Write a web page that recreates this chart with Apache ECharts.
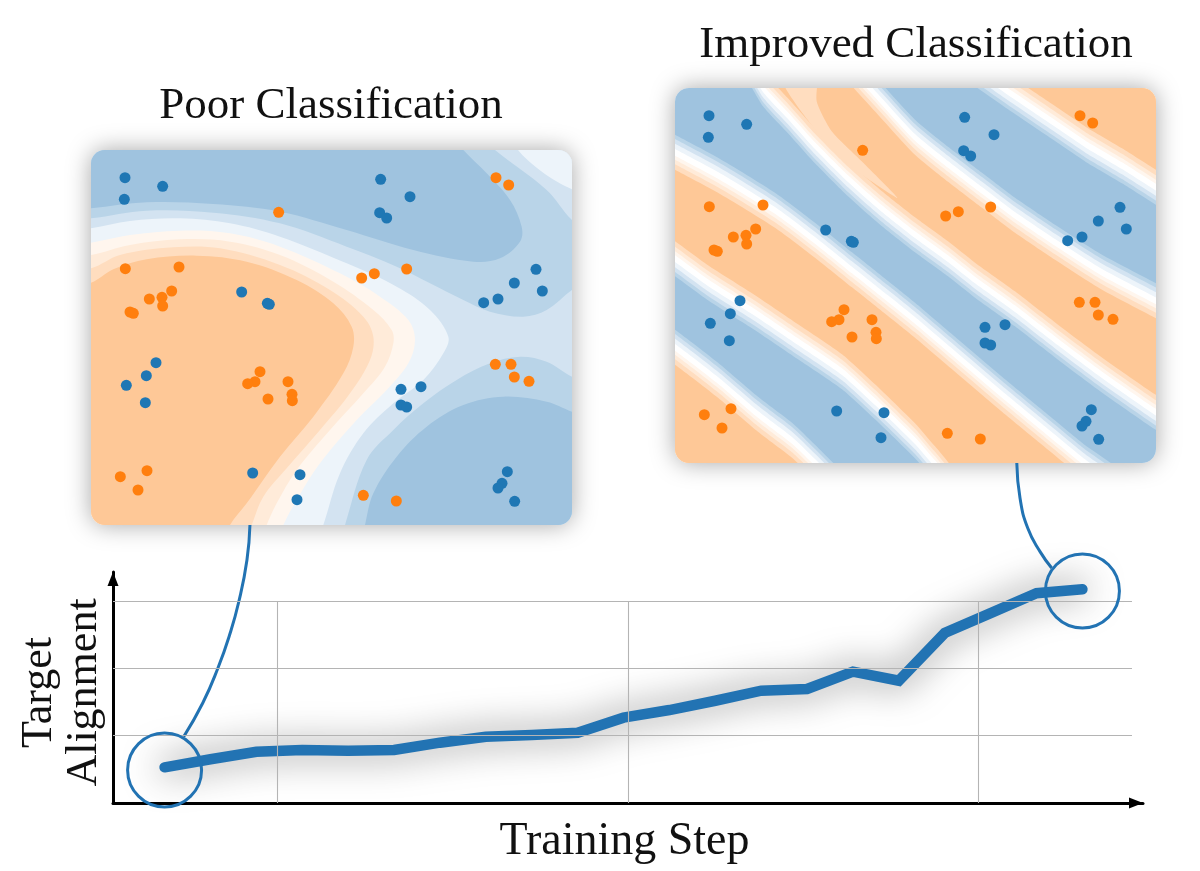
<!DOCTYPE html>
<html><head><meta charset="utf-8">
<style>html,body{margin:0;padding:0;background:#fff}#c{width:1200px;height:871px}</style>
<script src="https://cdn.jsdelivr.net/npm/echarts@6/dist/echarts.min.js"></script>
</head><body><div id="c"></div>
<script>
// ---- Target alignment curve ----
const alignmentSteps = [0,1,2,3,4,5,6,7,8,9,10,11,12,13,14,15,16,17,18,19,20];
const alignmentValues = [0.53,0.65,0.76,0.787,0.777,0.787,0.896,0.985,1.01,1.044,1.267,1.381,1.519,1.668,1.693,1.95,1.816,2.525,2.82,3.115,3.174];
const gridY = [1,2,3];
const gridX = [2.449,10.096,17.72];
const circles = [[0,0.49],[20,3.15]];
const connectorLeft = [[0.416,0.985],[0.832,1.485],[1.163,2.005],[1.416,2.495],[1.621,3.0],[1.795,3.609],[1.86,4.129]];
const connectorRight = [[18.57,5.05],[18.64,4.53],[18.81,4.08],[19.08,3.73],[19.33,3.49]];
// ---- Points shared by both panels ----
const bluePoints = [[135,113],[248,139],[133,178],[902,118],[990,170],[899,218],[920,234],[1368,388],[1303,429],[1387,453],[1254,477],[1211,488],[485,456],[562,490],[568,493],[228,668],[199,707],[139,736],[196,788],[963,748],[1023,740],[963,795],[980,801],[518,999],[660,1004],[651,1079],[1282,995],[1266,1030],[1254,1044],[1304,1084]];
const orangePoints = [[596,217],[1248,113],[1286,135],[136,386],[297,381],[845,414],[883,401],[980,387],[275,453],[208,477],[246,472],[248,498],[150,516],[160,520],[1246,673],[1293,673],[1303,711],[1347,724],[540,695],[525,725],[503,731],[624,725],[636,763],[637,782],[564,777],[121,1010],[201,992],[174,1050],[850,1066],[949,1083]];
// ---- Palette ----
const B1='#9fc3df',B2='#b9d4e8',B3='#d3e3f1',B4='#edf4fa',O4='#fff6ee',O3='#ffebd9',O2='#ffddbf',O1='#fec897',W='#ffffff';
// ---- Left panel decision regions ----
const leftCorner = [[1300,-10],[1540,160],[1700,-100]];
const leftUpperB2 = [[-50,240],[33,235],[200,212],[400,218],[600,250],[800,320],[950,380],[1050,430],[1150,480],[1230,515],[1330,530],[1400,510],[1476,450],[1560,400],[1560,300],[1476,240],[1400,150],[1245,30],[1180,-30],[-50,-30]];
const leftUpperB1 = [[-50,210],[33,205],[200,187],[400,192],[600,215],[800,270],[1000,330],[1180,365],[1260,355],[1320,305],[1325,260],[1290,180],[1220,100],[1150,30],[1100,-30],[-50,-30]];
const leftLowerB2 = [[1600,760],[1476,710],[1400,665],[1320,650],[1230,670],[1130,720],[1030,790],[940,870],[860,960],[795,1155],[770,1250],[1600,1250]];
const leftLowerB1 = [[1600,860],[1476,815],[1400,785],[1270,770],[1150,795],[1040,860],[950,950],[880,1060],[855,1155],[835,1250],[1600,1250]];
const leftB4 = [[-50,270],[33,265],[150,243],[300,235],[450,250],[600,290],[800,370],[950,440],[1050,510],[1105,590],[1090,640],[1030,720],[940,790],[850,880],[780,1000],[730,1155],[700,1230],[-50,1230]];
const leftO4 = [[-50,315],[33,308],[150,285],[300,272],[450,280],[600,320],[780,400],[900,470],[985,540],[1005,600],[985,670],[920,750],[830,840],[720,970],[650,1080],[610,1155],[580,1230],[-50,1230]];
const leftO3 = [[-50,350],[33,345],[150,315],[300,298],[450,305],[600,345],[760,425],[880,510],[935,570],[940,610],[915,680],[850,760],[750,870],[650,990],[590,1090],[560,1155],[530,1230],[-50,1230]];
const leftO2 = [[-50,390],[33,385],[120,345],[280,322],[420,325],[600,375],[750,450],[850,530],[880,590],[870,660],[810,760],[720,870],[620,985],[550,1070],[515,1155],[485,1230],[-50,1230]];
const leftO1 = [[-50,435],[33,428],[100,388],[200,358],[350,347],[500,365],[650,420],[760,490],[815,560],[820,620],[790,700],[700,830],[600,950],[500,1090],[450,1155],[420,1230],[-50,1230]];
const leftLayers = [[leftCorner,B4],[leftUpperB2,B2],[leftUpperB1,B1],[leftLowerB2,B2],[leftLowerB1,B1],[leftB4,B4],[leftO4,O4],[leftO3,O3],[leftO2,O2],[leftO1,O1]];
// ---- Right panel zero contours ----
const contourTop = [[-400,-400],[1900,-400]];
const contour1 = [[800,-120],[932,-31],[1032,39],[1152,120],[1272,201],[1374,261],[1473,324],[1570,385]];
const contour2 = [[470,-130],[560,-30],[642,60],[753,180],[852,261],[954,339],[1053,414],[1173,495],[1314,585],[1473,669],[1570,725]];
const contour3 = [[190,-130],[255,-40],[297,30],[372,111],[453,201],[552,300],[654,390],[753,468],[852,540],[933,604],[1053,690],[1182,790],[1323,895],[1473,999],[1570,1060]];
const contour4 = [[-50,180],[33,225],[162,294],[333,399],[453,489],[564,578],[672,664],[753,729],[873,831],[1014,951],[1134,1050],[1254,1149],[1400,1270]];
const contour5 = [[-50,490],[33,540],[132,612],[264,696],[402,789],[534,879],[633,969],[753,1086],[813,1155],[950,1300]];
const contour6 = [[-50,755],[33,810],[162,909],[282,1011],[384,1089],[453,1155],[600,1300]];
const contourBottom = [[-400,1700],[1200,1700]];
const orangeBands = [[contourTop,contour1],[contour2,contour3],[contour4,contour5],[contour6,contourBottom]];
const bandLevels = [[-55,B2],[-42,B3],[-28,B4],[-12,W],[8,O4],[20,O3],[34,O2],[50,O1]];
const rightPaleWedge = [[340,-40],[458,-40],[458,70],[503,160],[593,250],[700,360],[560,265],[450,150],[370,40]];

function panelShell(api, layerEls){
  const a = api.coord([33,30]), b = api.coord([1476,1155]);
  const rect = {x:a[0],y:a[1],width:b[0]-a[0],height:b[1]-a[1],r:14};
  return {type:'group',children:[
    {type:'rect',shape:rect,style:{fill:'#fff',shadowBlur:24,shadowColor:'rgba(0,0,0,0.35)'}},
    {type:'group',clipPath:{type:'rect',shape:rect},children:layerEls}
  ]};
}
function poly(api,pts,fill,smooth){
  return {type:'polygon',shape:{points:pts.map(p=>api.coord(p)),smooth:smooth},style:{fill:fill}};
}
function renderLeft(params,api){
  const a = api.coord([33,30]), b = api.coord([1476,1155]);
  const els = [{type:'rect',shape:{x:a[0],y:a[1],width:b[0]-a[0],height:b[1]-a[1]},style:{fill:B3}}];
  leftLayers.forEach(l=>els.push(poly(api,l[0],l[1],0.35)));
  return panelShell(api,els);
}
function renderRight(params,api){
  const a = api.coord([33,30]), b = api.coord([1476,1155]);
  const els = [{type:'rect',shape:{x:a[0],y:a[1],width:b[0]-a[0],height:b[1]-a[1]},style:{fill:B1}}];
  bandLevels.forEach(lv=>{
    orangeBands.forEach(bd=>{
      const up = bd[0].map(p=>[p[0],p[1]+lv[0]]);
      const lo = bd[1].map(p=>[p[0],p[1]-lv[0]]).reverse();
      els.push(poly(api,up.concat(lo),lv[1],0.2));
    });
  });
  els.push(poly(api,rightPaleWedge,O2,0.2));
  return panelShell(api,els);
}
const xMin=-1.124,xMax=21.32,yMax=3.431,gridEnd=21.08;
const gridColor='#b4b4b4', lineBlue='#2273b3';
const chart = echarts.init(document.getElementById('c'),null,{renderer:'canvas'});
const titleFont={fontFamily:'Liberation Serif',fontSize:45,fontWeight:'normal',color:'#111'};
function scatter(data,color,idx){return {type:'scatter',xAxisIndex:idx,yAxisIndex:idx,data:data,symbolSize:11,itemStyle:{color:color,opacity:1},z:5,silent:true};}
chart.setOption({
  animation:false,backgroundColor:'#fff',
  title:[
    {text:'Poor Classification',left:326,top:79,textAlign:'center',textStyle:titleFont},
    {text:'Improved Classification',left:911,top:18,textAlign:'center',textStyle:titleFont}
  ],
  grid:[
    {left:113,top:572,width:1030,height:231},
    {left:91,top:150,width:481,height:375},
    {left:675,top:88,width:481,height:375}
  ],
  xAxis:[
    {gridIndex:0,type:'value',min:xMin,max:xMax,splitLine:{show:false},axisTick:{show:false},axisLabel:{show:false},
     axisLine:{onZero:false,lineStyle:{color:'#000',width:3},symbol:['none','triangle'],symbolSize:[11,14],symbolOffset:[0,-7]},
     name:'Training Step',nameLocation:'middle',nameGap:16,nameTextStyle:{fontFamily:'Liberation Serif',fontSize:46,color:'#111',verticalAlign:'top',padding:[0,7,0,0]}},
    {gridIndex:1,type:'value',min:33,max:1476,show:false},
    {gridIndex:2,type:'value',min:33,max:1476,show:false}
  ],
  yAxis:[
    {gridIndex:0,type:'value',min:0,max:yMax,splitLine:{show:false},axisTick:{show:false},axisLabel:{show:false},
     axisLine:{onZero:false,lineStyle:{color:'#000',width:3},symbol:['none','triangle'],symbolSize:[11,14],symbolOffset:[0,-7]},
     name:'Target\nAlignment',nameLocation:'middle',nameGap:6,nameTextStyle:{fontFamily:'Liberation Serif',fontSize:44,lineHeight:45,color:'#111',align:'center',verticalAlign:'bottom',padding:[0,10,0,0]}},
    {gridIndex:1,type:'value',min:30,max:1155,inverse:true,show:false},
    {gridIndex:2,type:'value',min:30,max:1155,inverse:true,show:false}
  ],
  series:[
    {type:'line',xAxisIndex:0,yAxisIndex:0,data:[],z:1,silent:true,
     markLine:{silent:true,symbol:'none',animation:false,label:{show:false},lineStyle:{color:gridColor,width:1.1,type:'solid'},
      data:gridY.map(v=>[{coord:[xMin,v]},{coord:[gridEnd,v]}]).concat(gridX.map(v=>[{coord:[v,0]},{coord:[v,3]}]))}},
    {type:'line',xAxisIndex:0,yAxisIndex:0,data:alignmentSteps.map((s,i)=>[s,alignmentValues[i]]),showSymbol:false,symbol:'none',clip:false,z:4,silent:true,
     lineStyle:{color:lineBlue,width:10.5,cap:'round',join:'miter',shadowBlur:36,shadowColor:'rgba(0,0,0,0.6)'}},
    {type:'line',xAxisIndex:0,yAxisIndex:0,data:connectorLeft,smooth:true,symbol:'none',clip:false,z:3,silent:true,lineStyle:{color:lineBlue,width:3}},
    {type:'line',xAxisIndex:0,yAxisIndex:0,data:connectorRight,smooth:true,symbol:'none',clip:false,z:3,silent:true,lineStyle:{color:lineBlue,width:3}},
    {type:'scatter',xAxisIndex:0,yAxisIndex:0,data:circles,symbolSize:74,clip:false,z:5,silent:true,
     itemStyle:{color:'rgba(255,255,255,0)',borderColor:lineBlue,borderWidth:3,opacity:1}},
    {type:'custom',coordinateSystem:'cartesian2d',xAxisIndex:1,yAxisIndex:1,data:[[33,30]],renderItem:renderLeft,clip:false,z:2,silent:true},
    {type:'custom',coordinateSystem:'cartesian2d',xAxisIndex:2,yAxisIndex:2,data:[[33,30]],renderItem:renderRight,clip:false,z:2,silent:true},
    scatter(bluePoints,'#1f77b4',1),scatter(orangePoints,'#ff7f0e',1),
    scatter(bluePoints,'#1f77b4',2),scatter(orangePoints,'#ff7f0e',2)
  ]
});
</script></body></html>
